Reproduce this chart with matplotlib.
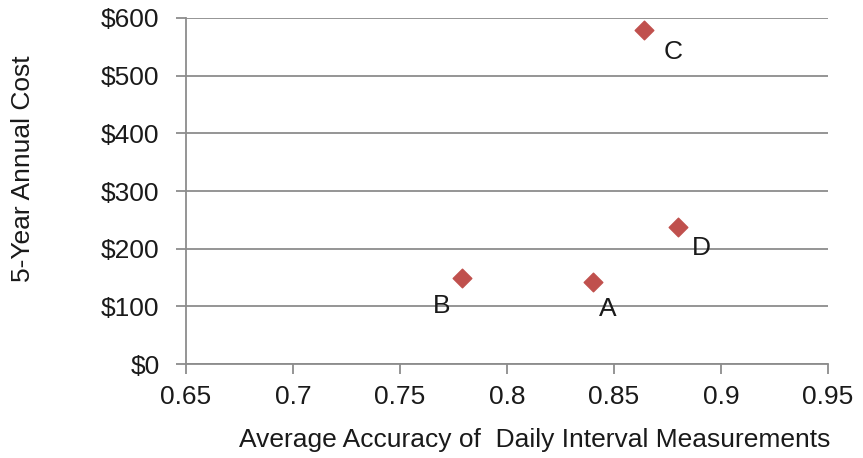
import matplotlib.pyplot as plt
from matplotlib.ticker import FuncFormatter

# data
labels = ["A", "B", "C", "D"]
accuracy = [0.84, 0.779, 0.864, 0.880]
cost = [142, 149, 579, 237]
# label offsets in points (dx, dy)
label_offsets = [(11, -19), (-15, -20), (21, -16), (17, -15)]

x_ticks = [0.65, 0.7, 0.75, 0.8, 0.85, 0.9, 0.95]
y_ticks = [0, 100, 200, 300, 400, 500, 600]

plt.rcParams["font.family"] = ["Liberation Sans", "DejaVu Sans"]

fig = plt.figure(figsize=(8.63, 4.58), dpi=100)
ax = fig.add_axes([0.2155, 0.2052, 0.7439, 0.7555])

grid_col = "#8c8c8c"
txt_col = "#1a1a1a"
ax.set_xlim(0.65, 0.95)
ax.set_ylim(0, 600)
ax.set_xticks(x_ticks)
ax.set_yticks(y_ticks)
ax.xaxis.set_major_formatter(FuncFormatter(lambda v, p: f"{v:g}"))
ax.yaxis.set_major_formatter(FuncFormatter(lambda v, p: f"${v:.0f}"))
ax.yaxis.grid(True, color=grid_col, linewidth=1.3)
ax.set_axisbelow(True)

for s in ["top", "right"]:
    ax.spines[s].set_visible(False)
for s in ["left", "bottom"]:
    ax.spines[s].set_color(grid_col)
    ax.spines[s].set_linewidth(1.3)
ax.tick_params(axis="both", colors=grid_col, length=7, width=1.3,
               labelsize=19, labelcolor=txt_col)
ax.tick_params(axis="y", pad=12)
ax.tick_params(axis="x", pad=8)

ax.scatter(accuracy, cost, marker="D", s=90, color="#c0504d", zorder=3)
for lab, x, y, off in zip(labels, accuracy, cost, label_offsets):
    ax.annotate(lab, (x, y), xytext=off, textcoords="offset points",
                ha="center", va="center", fontsize=19, color=txt_col)

fig.text(0.62, 0.039, "Average Accuracy of  Daily Interval Measurements",
         fontsize=19, color=txt_col, ha="center", va="center")
fig.text(0.027, 0.631, "5-Year Annual Cost", rotation=90,
         fontsize=19, color=txt_col, ha="center", va="center")

fig.savefig("out.png", dpi=100)
